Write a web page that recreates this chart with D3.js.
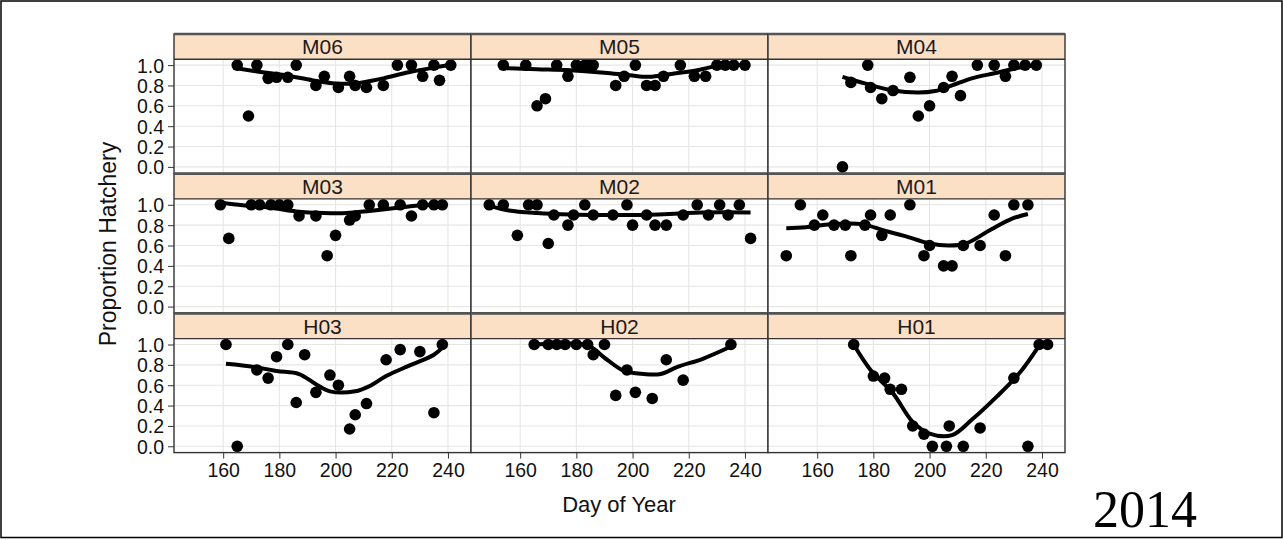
<!DOCTYPE html>
<html><head><meta charset="utf-8">
<script src="https://cdn.jsdelivr.net/npm/d3@7"></script>
<style>body{margin:0;background:#fff}svg{display:block}</style>
</head><body>
<svg id="c" width="1283" height="540"></svg>
<script>
// ---------- data ----------
const panelNames = ["M06","M05","M04","M03","M02","M01","H03","H02","H01"];
const xTicks = [160,180,200,220,240];
const yTicks = [0.0,0.2,0.4,0.6,0.8,1.0];
const yTickLabels = ["0.0","0.2","0.4","0.6","0.8","1.0"];
const xTitle = "Day of Year";
const yTitle = "Proportion Hatchery";
const yearLabel = "2014";

const dayM06  = [165,169,172,176,179,183,186,193,196,201,205,207,211,217,222,227,231,235,237,241];
const propM06 = [1.0,0.5,1.0,0.87,0.88,0.88,1.0,0.8,0.89,0.78,0.89,0.8,0.78,0.8,1.0,1.0,0.89,1.0,0.85,1.0];
const smDayM06  = [165,174,182,192,200,207,217,226,236,241];
const smPropM06 = [0.97,0.93,0.9,0.85,0.82,0.82,0.87,0.93,0.98,1.0];

const dayM05  = [154,162,166,169,173,177,180,183,185,186,194,197,201,205,208,211,217,222,226,230,233,236,240];
const propM05 = [1.0,1.0,0.6,0.67,1.0,0.89,1.0,1.0,1.0,1.0,0.8,0.89,1.0,0.8,0.8,0.89,1.0,0.89,0.89,1.0,1.0,1.0,1.0];
const smDayM05  = [154,166,178,190,199,206,213,223,230,240];
const smPropM05 = [0.97,0.96,0.95,0.925,0.9,0.885,0.91,0.95,0.99,1.0];

const dayM04  = [169,172,178,179,183,187,193,196,200,205,208,211,217,223,227,230,234,238];
const propM04 = [0.0,0.83,1.0,0.78,0.67,0.75,0.88,0.5,0.6,0.78,0.89,0.7,1.0,1.0,0.89,1.0,1.0,1.0];
const smDayM04  = [169,177,187,196,202,208,215,224,230,238];
const smPropM04 = [0.885,0.82,0.75,0.73,0.745,0.8,0.87,0.925,0.965,1.0];

const dayM03  = [159,162,170,173,177,180,183,187,193,197,200,205,207,212,217,223,227,231,235,238];
const propM03 = [1.0,0.67,1.0,1.0,1.0,1.0,1.0,0.89,0.89,0.5,0.7,0.85,0.89,1.0,1.0,1.0,0.89,1.0,1.0,1.0];
const smDayM03  = [159,167,177,186,196,204,212,222,231,238];
const smPropM03 = [1.02,0.995,0.97,0.935,0.92,0.92,0.94,0.97,0.995,1.0];

const dayM02  = [149,154,159,163,166,170,172,177,179,183,186,193,198,200,205,208,212,218,223,227,231,234,238,242];
const propM02 = [1.0,1.0,0.7,1.0,1.0,0.62,0.9,0.8,0.9,1.0,0.9,0.9,1.0,0.8,0.9,0.8,0.8,0.9,1.0,0.9,1.0,0.9,1.0,0.67];
const smDayM02  = [149,156,166,178,190,201,213,225,242];
const smPropM02 = [0.99,0.945,0.92,0.905,0.9,0.9,0.91,0.925,0.925];

const dayM01  = [149,154,159,162,166,170,172,177,179,183,186,193,198,200,205,208,212,218,223,227,230,235];
const propM01 = [0.5,1.0,0.8,0.9,0.8,0.8,0.5,0.8,0.9,0.7,0.9,1.0,0.5,0.6,0.4,0.4,0.6,0.6,0.9,0.5,1.0,1.0];
const smDayM01  = [149,156,165,176,184,191,200,207,213,222,229,235];
const smPropM01 = [0.77,0.78,0.81,0.81,0.745,0.695,0.62,0.6,0.62,0.76,0.86,0.91];

const dayH03  = [161,165,172,176,179,183,186,189,193,198,201,205,207,211,218,223,230,235,238];
const propH03 = [1.0,0.0,0.75,0.67,0.88,1.0,0.43,0.9,0.53,0.7,0.6,0.17,0.31,0.42,0.85,0.95,0.93,0.33,1.0];
const smDayH03  = [161,171,179,187,193,198,207,212,218,226,235,238];
const smPropH03 = [0.81,0.78,0.74,0.71,0.61,0.54,0.54,0.59,0.69,0.79,0.9,0.97];

const dayH02  = [165,170,173,176,180,184,186,190,194,198,201,207,212,218,235];
const propH02 = [1.0,1.0,1.0,1.0,1.0,1.0,0.9,1.0,0.5,0.75,0.53,0.47,0.85,0.65,1.0];
const smDayH02  = [165,184,190,197,204,210,216,225,235];
const smPropH02 = [1.0,0.99,0.87,0.74,0.71,0.71,0.78,0.86,0.98];

const dayH01  = [173,180,184,186,190,194,198,201,206,207,212,218,230,235,239,242];
const propH01 = [1.0,0.69,0.67,0.56,0.56,0.2,0.12,0.0,0.0,0.2,0.0,0.18,0.67,0.0,1.0,1.0];
const smDayH01  = [173,179,187,194,200,208,215,224,232,239];
const smPropH01 = [1.0,0.75,0.52,0.24,0.125,0.11,0.26,0.49,0.72,0.99];

const pointData  = {M06:[dayM06,propM06],M05:[dayM05,propM05],M04:[dayM04,propM04],M03:[dayM03,propM03],M02:[dayM02,propM02],M01:[dayM01,propM01],H03:[dayH03,propH03],H02:[dayH02,propH02],H01:[dayH01,propH01]};
const smoothData = {M06:[smDayM06,smPropM06],M05:[smDayM05,smPropM05],M04:[smDayM04,smPropM04],M03:[smDayM03,smPropM03],M02:[smDayM02,smPropM02],M01:[smDayM01,smPropM01],H03:[smDayH03,smPropH03],H02:[smDayH02,smPropH02],H01:[smDayH01,smPropH01]};

// ---------- layout ----------
const svg = d3.select("#c");
const W = 1283, H = 540;
const colLeft = [174, 471, 768], panelW = 297;
const stripTop = [34, 173.7, 313.4], stripH = 25.2, panelH = 114;
const font = "'Liberation Sans', Arial, sans-serif";

svg.append("rect").attr("x",1).attr("y",1).attr("width",W-2).attr("height",536.5)
  .attr("fill","#fff").attr("stroke","#000").attr("stroke-width",1.5);

panelNames.forEach((name,i)=>{
  const c = i%3, r = Math.floor(i/3);
  const x0 = colLeft[c], sT = stripTop[r], pT = sT + stripH;
  const x = d3.scaleLinear().domain([142.5,248.2]).range([x0, x0+panelW]);
  const y = d3.scaleLinear().domain([-0.062,1.058]).range([pT+panelH, pT]);
  const g = svg.append("g");
  g.append("rect").attr("x",x0).attr("y",pT).attr("width",panelW).attr("height",panelH).attr("fill","#fff");
  g.selectAll(".gx").data(xTicks).join("line")
    .attr("x1",d=>x(d)).attr("x2",d=>x(d)).attr("y1",pT).attr("y2",pT+panelH)
    .attr("stroke","#e6e6e6").attr("stroke-width",1.1);
  g.selectAll(".gy").data(yTicks).join("line")
    .attr("y1",d=>y(d)).attr("y2",d=>y(d)).attr("x1",x0).attr("x2",x0+panelW)
    .attr("stroke","#e6e6e6").attr("stroke-width",1.1);
  const [ds, ps] = pointData[name];
  g.selectAll("circle").data(ds.map((d,k)=>[d,ps[k]])).join("circle")
    .attr("cx",d=>x(d[0])).attr("cy",d=>y(d[1])).attr("r",5.8).attr("fill","#000");
  const [sd, sp] = smoothData[name];
  g.append("path").datum(sd.map((d,k)=>[d,sp[k]]))
    .attr("d", d3.line().x(d=>x(d[0])).y(d=>y(d[1])).curve(d3.curveCatmullRom.alpha(0.5)))
    .attr("fill","none").attr("stroke","#000").attr("stroke-width",4).attr("stroke-linejoin","round");
  g.append("rect").attr("x",x0).attr("y",sT).attr("width",panelW).attr("height",stripH)
    .attr("fill","#fce0c6");
  g.append("text").attr("x",x0+panelW/2).attr("y",sT+stripH/2+7.5)
    .attr("text-anchor","middle").attr("font-family",font).attr("font-size",21).attr("fill","#1a1a1a").text(name);
  g.append("rect").attr("x",x0).attr("y",sT).attr("width",panelW).attr("height",stripH+panelH)
    .attr("fill","none").attr("stroke","#333").attr("stroke-width",1.4);
  g.append("line").attr("x1",x0).attr("x2",x0+panelW).attr("y1",sT).attr("y2",sT).attr("stroke","#555").attr("stroke-width",2.5);
  g.append("line").attr("x1",x0).attr("x2",x0+panelW).attr("y1",pT).attr("y2",pT).attr("stroke","#333").attr("stroke-width",1.4);
  if (c===0){
    const ya = d3.axisLeft(y).tickValues(yTicks).tickFormat((d,k)=>yTickLabels[k]).tickSize(6).tickPadding(4);
    const ag = svg.append("g").attr("transform",`translate(${x0},0)`).call(ya);
    ag.select(".domain").remove();
    ag.selectAll("line").attr("stroke","#333");
    ag.selectAll("text").attr("font-family",font).attr("font-size",19.5).attr("fill","#111").attr("dy","0.36em");
  }
  if (r===2){
    const xa = d3.axisBottom(x).tickValues(xTicks).tickSize(6).tickPadding(5);
    const ag = svg.append("g").attr("transform",`translate(0,${pT+panelH})`).call(xa);
    ag.select(".domain").remove();
    ag.selectAll("line").attr("stroke","#333");
    ag.selectAll("text").attr("font-family",font).attr("font-size",19.5).attr("fill","#111");
  }
});

svg.append("text").attr("x",619).attr("y",512).attr("text-anchor","middle")
  .attr("font-family",font).attr("font-size",22).attr("fill","#111").text(xTitle);
svg.append("text").attr("transform","translate(116,244) rotate(-90)").attr("text-anchor","middle")
  .attr("font-family",font).attr("font-size",23).attr("fill","#111").text(yTitle);
svg.append("text").attr("x",1145).attr("y",527).attr("text-anchor","middle")
  .attr("font-family","'Liberation Serif','Times New Roman',serif").attr("font-size",52).attr("fill","#000").text(yearLabel);
</script>
</body></html>
